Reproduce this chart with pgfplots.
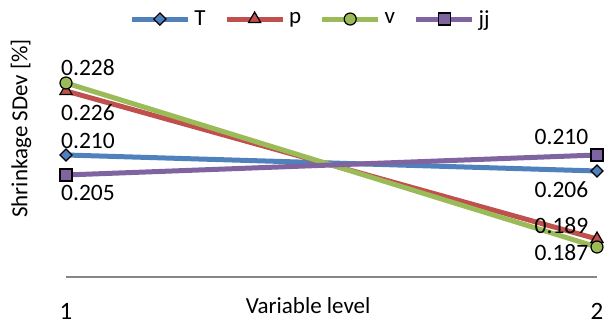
\documentclass[border=0pt]{standalone}
\usepackage{fontspec}
\setmainfont{Carlito}
\usepackage{pgfplots}
\pgfplotsset{compat=1.18}
\definecolor{cT}{HTML}{4F81BD}
\definecolor{cP}{HTML}{C0504D}
\definecolor{cV}{HTML}{9BBB59}
\definecolor{cJ}{HTML}{8064A2}
\definecolor{axgray}{HTML}{868686}
\begin{document}
\begin{tikzpicture}
\path[use as bounding box] (-66pt,-47pt) rectangle (539pt,277pt);
\begin{axis}[
  scale only axis, width=531pt, height=242pt,
  at={(0pt,0pt)}, anchor=south west,
  xmin=1, xmax=2, ymin=0.1795, ymax=0.24,
  clip=false,
  axis x line*=bottom, axis y line*=left,
  y axis line style={draw=none},
  x axis line style={draw=axgray, line width=1.3pt},
  xtick={1,2}, ytick=\empty, major tick length=0pt,
  /pgf/number format/assume math mode=true,
  xticklabel style={anchor=base, yshift=-42pt, font=\fontsize{25}{30}\selectfont},
  xlabel={Variable level},
  xlabel style={at={(rel axis cs:0.456,0)}, anchor=base, yshift=-36pt, font=\fontsize{23}{27}\selectfont},
  ylabel={Shrinkage SDev [\%]},
  ylabel style={at={(rel axis cs:0,0.614)}, anchor=center, yshift=45pt, font=\fontsize{23}{27}\selectfont},
  legend columns=4,
  legend style={draw=none, fill=none, at={(rel axis cs:0.4586,1.066)}, anchor=center,
    font=\fontsize{23}{27}\selectfont,
    /tikz/every odd column/.append style={column sep=4pt},
    /tikz/every even column/.append style={column sep=18.5pt},
    nodes={inner xsep=0pt, font=\fontsize{23}{27}\selectfont}},
  legend image code/.code={\draw[mark repeat=2, mark phase=2, #1] plot coordinates {(0pt,0pt) (28pt,0pt) (56pt,0pt)};},
  nodes near coords,
  point meta=explicit symbolic,
  visualization depends on={value \thisrow{dx} \as \dx},
  visualization depends on={value \thisrow{dy} \as \dy},
  every node near coord/.append style={anchor=center, xshift=\dx pt, yshift=\dy pt, text=black, font=\fontsize{23.5}{28}\selectfont},
]
\addplot[cT, line width=5pt, mark=square*, mark size=4.3pt, mark options={rotate=45, fill=cT, draw=black, line width=1.2pt}]
  table[x=x, y=y, meta=lab] {
x y lab dx dy
1 0.210 0.210 22 14
2 0.206 0.206 -35.5 -18.5
};
\addlegendentry{T}
\addplot[cP, line width=5pt, mark=triangle*, mark size=7pt, mark options={fill=cP, draw=black, line width=1.2pt}]
  table[x=x, y=y, meta=lab] {
x y lab dx dy
1 0.226 0.226 22 -21.5
2 0.189 0.189 -35.5 13
};
\addlegendentry{p}
\addplot[cV, line width=5pt, mark=*, mark size=6pt, mark options={fill=cV, draw=black, line width=1.2pt}]
  table[x=x, y=y, meta=lab] {
x y lab dx dy
1 0.228 0.228 22 15.5
2 0.187 0.187 -35.5 -6
};
\addlegendentry{v}
\addplot[cJ, line width=5pt, mark=square*, mark size=6pt, mark options={fill=cJ, draw=black, line width=1.2pt}]
  table[x=x, y=y, meta=lab] {
x y lab dx dy
1 0.205 0.205 22 -18
2 0.210 0.210 -35.5 18.5
};
\addlegendentry{jj}
\end{axis}
\end{tikzpicture}
\end{document}
